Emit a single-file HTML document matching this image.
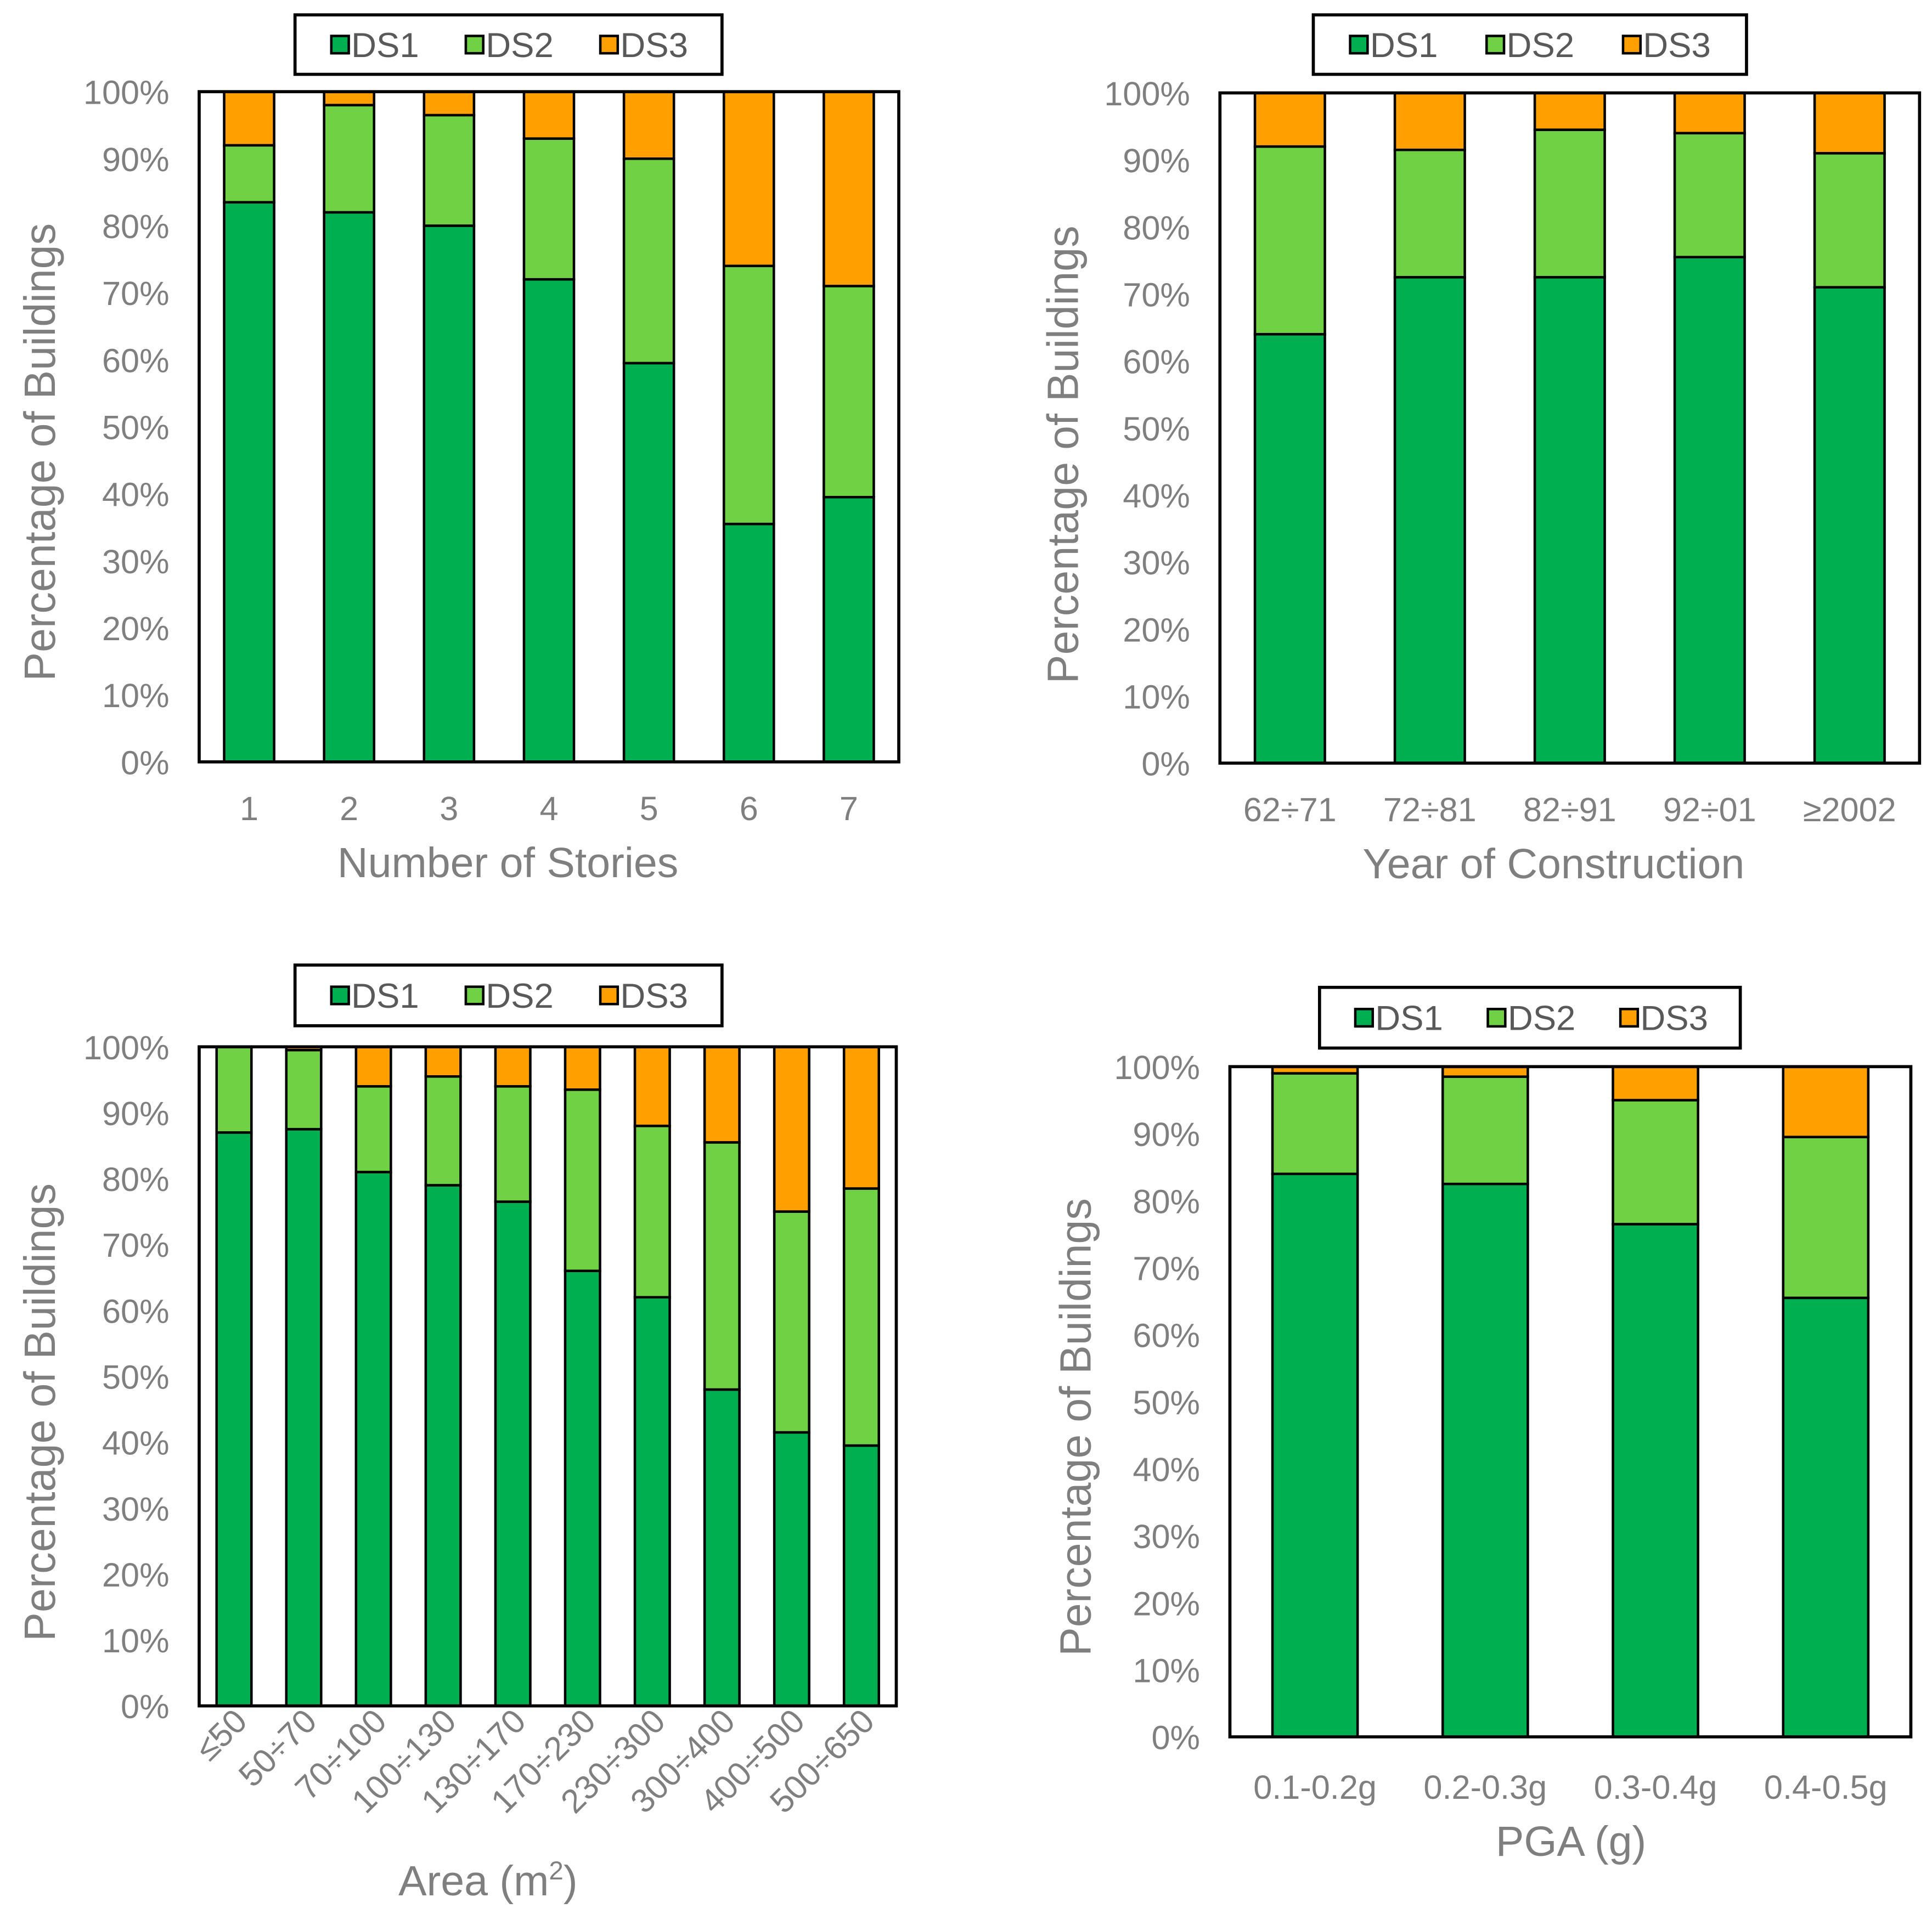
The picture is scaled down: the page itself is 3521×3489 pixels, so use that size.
<!DOCTYPE html>
<html><head><meta charset="utf-8"><style>html,body{margin:0;padding:0;background:#fff}svg{display:block}</style></head>
<body>
<svg id="svg" xmlns="http://www.w3.org/2000/svg" width="3521" height="3489" viewBox="0 0 1552 1545" preserveAspectRatio="none" font-family="'Liberation Sans', sans-serif"></svg>
<script>
const storiesCats=["1","2","3","4","5","6","7"];
const storiesDS1=[83.5,82,80,72,59.5,35.5,39.5];
const storiesDS2=[8.5,16,16.5,21,30.5,38.5,31.5];
const storiesDS3=[8,2,3.5,7,10,26,29];
const yearCats=["62÷71","72÷81","82÷91","92÷01","≥2002"];
const yearDS1=[64,72.5,72.5,75.5,71];
const yearDS2=[28,19,22,18.5,20];
const yearDS3=[8,8.5,5.5,6,9];
const areaCats=["≤50","50÷70","70÷100","100÷130","130÷170","170÷230","230÷300","300÷400","400÷500","500÷650"];
const areaDS1=[87,87.5,81,79,76.5,66,62,48,41.5,39.5];
const areaDS2=[13,12,13,16.5,17.5,27.5,26,37.5,33.5,39];
const areaDS3=[0,0.5,6,4.5,6,6.5,12,14.5,25,21.5];
const pgaCats=["0.1-0.2g","0.2-0.3g","0.3-0.4g","0.4-0.5g"];
const pgaDS1=[84,82.5,76.5,65.5];
const pgaDS2=[15,16,18.5,24];
const pgaDS3=[1,1.5,5,10.5];
const yTicks=["0%","10%","20%","30%","40%","50%","60%","70%","80%","90%","100%"];
const COLORS=["#00b050","#6fd143","#ffa000"];
const NS="http://www.w3.org/2000/svg";
const svg=document.getElementById('svg');
function mk(tag,attrs,parent,text){const e=document.createElementNS(NS,tag);for(const k in attrs)e.setAttribute(k,attrs[k]);if(text!==undefined)e.textContent=text;(parent||svg).appendChild(e);return e;}
function panel(id,cfg,cats,s1,s2,s3){
 const g=mk('g',{});
 
 
 const {x0,x1,y0,y1}=cfg;
 const yS=v=>y1-(v/100)*(y1-y0);
 const cw=(x1-x0)/cats.length;
 const xC=i=>x0+cw*(i+0.5);
 const bw=cw*cfg.bw;
 yTicks.forEach((t,i)=>{const tx=mk('text',{x:x0-24,y:yS(i*10)+10,'text-anchor':'end','font-size':27,fill:'#7f7f7f'},g,t);
  });
 const series=[s1,s2,s3];
 cats.forEach((c,i)=>{let base=0;
  series.forEach((s,k)=>{const v=s[i];if(v<=0){return;}
   const r=mk('rect',{x:xC(i)-bw/2,y:yS(base+v),width:bw,height:yS(base)-yS(base+v),fill:COLORS[k],stroke:'#000','stroke-width':2},g);
   base+=v;});
  let lt;
  if(cfg.rot){lt=mk('text',{x:xC(i)+12,y:y1+14,'text-anchor':'end','font-size':27,fill:'#7f7f7f',transform:`rotate(-45 ${xC(i)+12} ${y1+14})`},g,c);}
  else lt=mk('text',{x:xC(i),y:cfg.xly,'text-anchor':'middle','font-size':27,fill:'#7f7f7f'},g,c);
  
 });
 const fr=mk('rect',{x:x0,y:y0,width:x1-x0,height:y1-y0,fill:'none',stroke:'#000','stroke-width':2.5},g);
 
 const yc=cfg.ytc;
 const yt=mk('text',{x:cfg.ytx,y:yc,'text-anchor':'middle','font-size':35,fill:'#7f7f7f',transform:`rotate(-90 ${cfg.ytx} ${yc})`},g,'Percentage of Buildings');
 
 const xt=mk('text',{x:cfg.xtx,y:cfg.xty,'text-anchor':'middle','font-size':34,fill:'#7f7f7f'},g);
 
 if(cfg.title==='area'){xt.textContent='Area (m';mk('tspan',{'font-size':21,dy:-13},xt,'2');mk('tspan',{dy:13},xt,')');}
 else xt.textContent=cfg.title;
 const L=cfg.leg;
 const lb=mk('rect',{x:L[0],y:L[1],width:L[2]-L[0],height:L[3]-L[1],fill:'#fff',stroke:'#000','stroke-width':2.5},g);
 
 const lw=(L[2]-L[0]);const my=(L[1]+L[3])/2;
 ['DS1','DS2','DS3'].forEach((n,k)=>{const ex=L[0]+lw*0.085+k*lw*0.315;
  const sw=mk('rect',{x:ex,y:my-7,width:14,height:14,fill:COLORS[k],stroke:'#000','stroke-width':2},g);
  
  const lt=mk('text',{x:ex+16,y:my+10,'font-size':28,fill:'#595959'},g,n);
  });
}
panel('stories',{x0:160,x1:722,y0:74,y1:615,bw:0.5,xly:662,ytx:44,ytc:365,xtx:408,xty:708,title:'Number of Stories',leg:[237,12,580,60]},storiesCats,storiesDS1,storiesDS2,storiesDS3);
panel('year',{x0:980,x1:1542,y0:75,y1:616,bw:0.5,xly:663,ytx:866,ytc:367,xtx:1248,xty:709,title:'Year of Construction',leg:[1055,12,1403,60]},yearCats,yearDS1,yearDS2,yearDS3);
panel('area',{x0:160,x1:720,y0:845,y1:1377,bw:0.5,rot:true,ytx:44,ytc:1140,xtx:392,xty:1530,title:'area',leg:[237,779,580,828]},areaCats,areaDS1,areaDS2,areaDS3);
panel('pga',{x0:988,x1:1535,y0:861,y1:1402,bw:0.5,xly:1452,ytx:876,ytc:1152,xtx:1262,xty:1498,title:'PGA (g)',leg:[1060,797,1398,846]},pgaCats,pgaDS1,pgaDS2,pgaDS3);
</script>
</body></html>
